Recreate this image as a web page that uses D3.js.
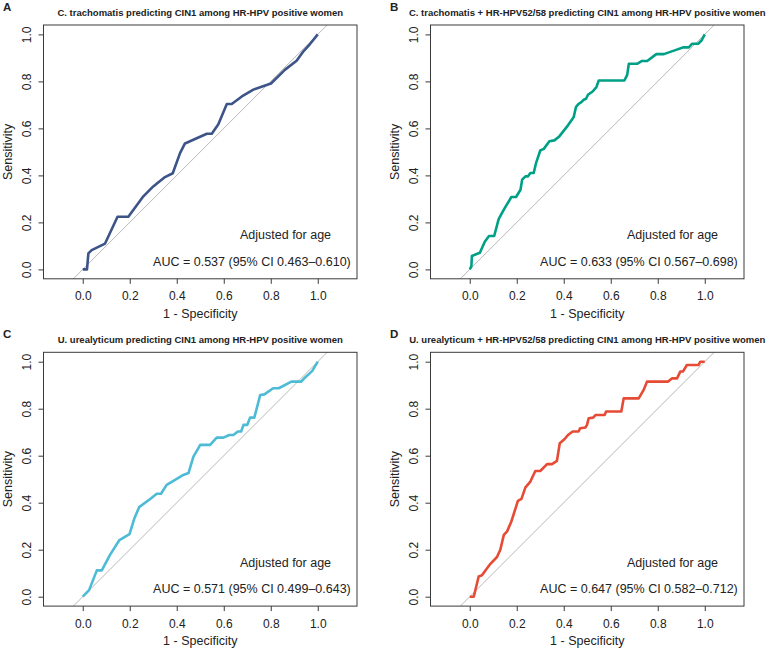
<!doctype html>
<html lang="en">
    <head>
        <meta charset="utf-8">
        <title>ROC curves</title>
        <script type="text/javascript" src="https://cdn.jsdelivr.net/npm/d3@7"></script>
        <style>
            body { margin: 0; background: #fff; }
            svg text { font-family: "Liberation Sans", Arial, sans-serif; fill: #222; }
        </style>
    </head>
    <body>
        <script type="text/javascript">
            // values: x = 1 - specificity, y = sensitivity
            var ctFpr  = [0, 0.018, 0.024, 0.038, 0.095, 0.148, 0.194, 0.258, 0.30, 0.35, 0.383, 0.414, 0.435, 0.528, 0.549, 0.577, 0.613, 0.634, 0.677, 0.726, 0.801, 0.861, 0.91, 0.939, 0.967, 1];
            var ctSens = [0, 0, 0.068, 0.082, 0.11, 0.224, 0.224, 0.311, 0.353, 0.393, 0.409, 0.495, 0.536, 0.577, 0.577, 0.618, 0.704, 0.704, 0.736, 0.765, 0.791, 0.85, 0.888, 0.928, 0.959, 1];

            var ct58Fpr  = [0, 0.007, 0.009, 0.043, 0.064, 0.082, 0.104, 0.123, 0.145, 0.177, 0.197, 0.216, 0.223, 0.237, 0.248, 0.258, 0.272, 0.282, 0.30, 0.315, 0.339, 0.36, 0.381, 0.418, 0.442, 0.452, 0.463, 0.475, 0.485, 0.495, 0.503, 0.523, 0.539, 0.549, 0.658, 0.67, 0.677, 0.712, 0.733, 0.755, 0.794, 0.826, 0.875, 0.91, 0.932, 0.946, 0.972, 0.986, 1];
            var ct58Sens = [0, 0.013, 0.057, 0.071, 0.118, 0.142, 0.142, 0.214, 0.254, 0.308, 0.308, 0.339, 0.382, 0.396, 0.396, 0.41, 0.41, 0.452, 0.506, 0.513, 0.545, 0.549, 0.566, 0.613, 0.647, 0.691, 0.704, 0.712, 0.722, 0.726, 0.743, 0.757, 0.776, 0.804, 0.804, 0.828, 0.875, 0.875, 0.887, 0.887, 0.916, 0.916, 0.933, 0.945, 0.945, 0.96, 0.96, 0.974, 1];

            var uuFpr  = [0, 0.027, 0.06, 0.081, 0.116, 0.156, 0.199, 0.22, 0.24, 0.287, 0.315, 0.333, 0.357, 0.393, 0.428, 0.45, 0.471, 0.50, 0.542, 0.57, 0.599, 0.623, 0.641, 0.66, 0.674, 0.684, 0.70, 0.712, 0.73, 0.755, 0.773, 0.81, 0.834, 0.888, 0.93, 0.945, 0.976, 1];
            var uuSens = [0, 0.028, 0.112, 0.112, 0.178, 0.241, 0.266, 0.334, 0.381, 0.416, 0.438, 0.438, 0.476, 0.497, 0.518, 0.526, 0.596, 0.646, 0.646, 0.677, 0.677, 0.688, 0.688, 0.703, 0.703, 0.731, 0.731, 0.762, 0.762, 0.858, 0.861, 0.887, 0.887, 0.915, 0.915, 0.932, 0.96, 1];

            var uu58Fpr  = [0, 0.017, 0.038, 0.052, 0.069, 0.088, 0.116, 0.13, 0.145, 0.159, 0.177, 0.205, 0.22, 0.237, 0.258, 0.279, 0.30, 0.329, 0.35, 0.371, 0.383, 0.404, 0.418, 0.438, 0.463, 0.47, 0.492, 0.499, 0.506, 0.525, 0.535, 0.574, 0.58, 0.645, 0.655, 0.719, 0.74, 0.754, 0.843, 0.86, 0.882, 0.896, 0.907, 0.924, 0.974, 0.981, 1];
            var uu58Sens = [0, 0, 0.086, 0.091, 0.115, 0.14, 0.169, 0.20, 0.263, 0.278, 0.32, 0.408, 0.416, 0.465, 0.49, 0.535, 0.535, 0.564, 0.564, 0.578, 0.653, 0.671, 0.688, 0.703, 0.703, 0.717, 0.72, 0.731, 0.759, 0.762, 0.773, 0.773, 0.788, 0.788, 0.844, 0.844, 0.88, 0.915, 0.915, 0.929, 0.929, 0.958, 0.958, 0.986, 0.986, 1, 1];

            var panelLetters = ["A", "B", "C", "D"];
            var panelTitles = [
                "C. trachomatis predicting CIN1 among HR-HPV positive women",
                "C. trachomatis + HR-HPV52/58 predicting CIN1 among HR-HPV positive women",
                "U. urealyticum predicting CIN1 among HR-HPV positive women",
                "U. urealyticum + HR-HPV52/58 predicting CIN1 among HR-HPV positive women"
            ];
            var aucLabels = [
                "AUC = 0.537 (95% CI 0.463\u20130.610)",
                "AUC = 0.633 (95% CI 0.567\u20130.698)",
                "AUC = 0.571 (95% CI 0.499\u20130.643)",
                "AUC = 0.647 (95% CI 0.582\u20130.712)"
            ];
            var tickValues = [0, 0.2, 0.4, 0.6, 0.8, 1.0];
            var lineColors = ["#3C5488", "#00A087", "#4DBBD5", "#E64B35"];

            var curves = [
                {fpr: ctFpr, sens: ctSens},
                {fpr: ct58Fpr, sens: ct58Sens},
                {fpr: uuFpr, sens: uuSens},
                {fpr: uu58Fpr, sens: uu58Sens}
            ];

            var svgW = 767;
            var svgH = 651;
            var boxW = 313.5;
            var boxH = 253.8;
            var origins = [[43.5, 25], [430.5, 25], [43.5, 352.3], [430.5, 352.3]];

            var svg = d3.select("body")
                        .append("svg")
                        .attr("width", svgW)
                        .attr("height", svgH);

            var xScale = d3.scaleLinear().domain([-0.167, 1.167]).range([0, boxW]);
            var yScale = d3.scaleLinear().domain([-0.04, 1.04]).range([boxH, 0]);

            var line = d3.line()
                         .x(d => xScale(d[0]))
                         .y(d => yScale(d[1]));

            var fmt = d3.format(".1f");

            curves.forEach(function (c, i) {
                var g = svg.append("g")
                           .attr("transform", "translate(" + origins[i][0] + "," + origins[i][1] + ")");

                g.append("text")
                 .attr("x", -40.5)
                 .attr("y", -14)
                 .style("font-size", "11.5px")
                 .style("font-weight", "bold")
                 .text(panelLetters[i]);

                g.append("text")
                 .attr("x", boxW / 2)
                 .attr("y", -9)
                 .attr("text-anchor", "middle")
                 .style("font-size", "9.5px")
                 .style("font-weight", "bold")
                 .text(panelTitles[i]);

                // reference diagonal
                g.append("line")
                 .attr("x1", xScale(-0.04)).attr("y1", yScale(-0.04))
                 .attr("x2", xScale(1.04)).attr("y2", yScale(1.04))
                 .style("stroke", "#b8b8b8")
                 .style("stroke-width", 1);

                var pts = d3.zip(c.fpr, c.sens);
                g.append("path")
                 .attr("d", line(pts))
                 .attr("fill", "none")
                 .style("stroke", lineColors[i])
                 .style("stroke-width", 2.6)
                 .style("stroke-linejoin", "round");

                g.append("rect")
                 .attr("width", boxW)
                 .attr("height", boxH)
                 .attr("fill", "none")
                 .style("stroke", "#3a3a3a")
                 .style("stroke-width", 1);

                var xAxis = d3.axisBottom(xScale)
                              .tickValues(tickValues)
                              .tickSize(5)
                              .tickPadding(4)
                              .tickFormat(fmt);
                var yAxis = d3.axisLeft(yScale)
                              .tickValues(tickValues)
                              .tickSize(5)
                              .tickFormat(fmt);

                var xg = g.append("g")
                          .attr("transform", "translate(0," + boxH + ")")
                          .call(xAxis);
                xg.select(".domain").remove();
                xg.selectAll("line").style("stroke", "#3a3a3a");
                xg.selectAll("text")
                  .attr("y", 21.5)
                  .attr("dy", 0)
                  .style("font-size", "12px")
                  .style("font-family", "Liberation Sans, Arial, sans-serif")
                  .style("fill", "#222");

                var yg = g.append("g").call(yAxis);
                yg.select(".domain").remove();
                yg.selectAll("line").style("stroke", "#3a3a3a");
                yg.selectAll("text")
                  .attr("transform", "rotate(-90)")
                  .attr("x", 0)
                  .attr("y", -13)
                  .attr("dy", 0)
                  .style("text-anchor", "middle")
                  .style("font-size", "12px")
                  .style("font-family", "Liberation Sans, Arial, sans-serif")
                  .style("fill", "#222");

                g.append("text")
                 .attr("x", boxW / 2)
                 .attr("y", boxH + 39)
                 .attr("text-anchor", "middle")
                 .style("font-size", "12.5px")
                 .text("1 - Specificity");

                g.append("text")
                 .attr("transform", "translate(-31.5," + (boxH / 2) + ") rotate(-90)")
                 .attr("text-anchor", "middle")
                 .style("font-size", "12.5px")
                 .text("Sensitivity");

                g.append("text")
                 .attr("x", xScale(0.863))
                 .attr("y", yScale(0.128))
                 .attr("text-anchor", "middle")
                 .style("font-size", "12.5px")
                 .text("Adjusted for age");

                g.append("text")
                 .attr("x", xScale(0.72))
                 .attr("y", yScale(0.014))
                 .attr("text-anchor", "middle")
                 .style("font-size", "12.5px")
                 .text(aucLabels[i]);
            });
        </script>
    </body>
</html>
